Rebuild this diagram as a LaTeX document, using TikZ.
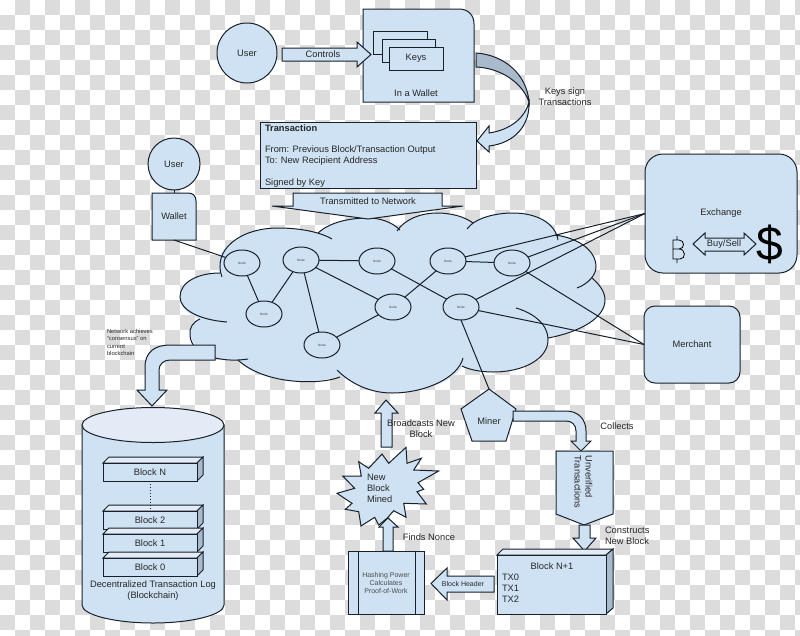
\documentclass[tikz,border=0pt]{standalone}
\usepackage{fontspec}
\setmainfont{Liberation Sans}
\usetikzlibrary{shapes.geometric}
\definecolor{boxblue}{HTML}{CFE2F3}
\definecolor{topblue}{HTML}{E3ECF6}
\definecolor{sideblue}{HTML}{A8BACB}
\definecolor{inkdark}{HTML}{17202B}
\definecolor{checkgrey}{HTML}{DCDCDC}
\tikzset{
    shapebox/.style={fill=boxblue,draw=inkdark,line width=1pt,line join=miter},
    txt/.style={inner sep=0pt,outer sep=0pt,text=black!85,font=\fontsize{9.3}{11}\selectfont},
    link/.style={draw=inkdark,line width=1pt},
    netnode/.style={ellipse,shapebox,minimum width=36pt,minimum height=26pt,inner sep=0pt,outer sep=0pt,text=black!75,font=\fontsize{3.2}{4}\selectfont}
}
\begin{document}
\begin{tikzpicture}[x=1pt,y=-1pt]
    \useasboundingbox (0,0) rectangle (800,635);
    \fill[white] (0,0) rectangle (800,635);
    % checker background
    \foreach \j in {0,...,42} {
        \pgfmathtruncatemacro{\off}{mod(\j+1,2)}
        \foreach \i in {0,2,...,54} {
            \fill[checkgrey] ({(\i+\off)*15},{\j*15}) rectangle ++(15,15);
        }
    }

    % user, keys, wallet
    \node[circle,shapebox,minimum size=60pt,inner sep=0pt,outer sep=0pt,txt] (user) at (247,53) {User};
    \filldraw[shapebox] (363,9) -- (459,9) .. controls (468,9) and (474,15) .. (474,24) -- (474,102) -- (363,102) -- cycle;
    \filldraw[shapebox] (373,31) rectangle (427,54);
    \filldraw[shapebox] (382,39) rectangle (435,62);
    \node[shapebox,txt,minimum width=54pt,minimum height=23pt] (keys) at (416,58.5) {Keys};
    \node[txt] (inwallet) at (416,93) {In a Wallet};
    \filldraw[shapebox] (282,48) -- (357,48) -- (357,42) -- (371,54.5) -- (357,67) -- (357,61) -- (282,61) -- cycle;
    \node[txt] (controls) at (323,54.5) {Controls};

    % keys sign arrow
    \filldraw[link,fill=sideblue] (476,53) .. controls (505,55) and (527,75) .. (529,102) .. controls (522,82) and (500,68) .. (476,67) -- cycle;
    \filldraw[shapebox] (477,141) -- (489,126) -- (489,133) .. controls (510,130) and (525,118) .. (529,102) .. controls (530,125) and (515,143) .. (489,146) -- (489,152) -- cycle;
    \node[txt,align=center] (keyssign) at (565,96.5) {Keys sign\\Transactions};

    % transaction box
    \filldraw[shapebox] (260,122) rectangle (476,188);
    \node[txt,anchor=west] (txtitle) at (265,128) {\bfseries Transaction};
    \node[txt,anchor=west,align=left] (txbody) at (265,155.5) {From: Previous Block/Transaction Output\\To: New Recipient Address};
    \node[txt,anchor=west] (txsigned) at (265,183) {Signed by Key};

    % cloud
    \fill[boxblue] (219,273) .. controls (212,250) and (240,228) .. (278,228) .. controls (295,228) and (310,231) .. (318,233)
        .. controls (330,222) and (350,218) .. (368,218) .. controls (380,218) and (392,222) .. (400,230)
        .. controls (405,220) and (420,213) .. (437,213) .. controls (452,213) and (465,217) .. (472,224)
        .. controls (482,216) and (497,213) .. (513,213) .. controls (535,213) and (552,220) .. (557,234)
        .. controls (578,238) and (596,250) .. (596,267) .. controls (596,270) and (595,275) .. (592,278)
        .. controls (600,285) and (605,292) .. (605,300) .. controls (605,318) and (580,332) .. (548,337)
        .. controls (550,355) and (525,372) .. (493,372) .. controls (482,372) and (470,370) .. (462,366)
        .. controls (455,380) and (425,393) .. (392,393) .. controls (375,393) and (355,385) .. (340,375)
        .. controls (320,385) and (260,385) .. (238,360) .. controls (220,360) and (195,355) .. (190,335)
        .. controls (188,328) and (192,322) .. (200,319) .. controls (188,315) and (180,306) .. (180,297)
        .. controls (180,282) and (198,273) .. (219,273) -- cycle;
    \draw[link] (227,322) .. controls (200,320) and (180,310) .. (180,297) .. controls (180,282) and (198,273) .. (220,273);
    \draw[link] (222,277) .. controls (212,250) and (240,228) .. (278,228) .. controls (300,228) and (320,232) .. (332,239);
    \draw[link] (318,233) .. controls (330,222) and (350,218) .. (368,218) .. controls (380,218) and (392,222) .. (400,230);
    \draw[link] (397,231) .. controls (404,220) and (420,213) .. (437,213) .. controls (452,213) and (465,217) .. (473,223);
    \draw[link] (467,229) .. controls (475,218) and (495,213) .. (513,213) .. controls (535,213) and (555,222) .. (558,240);
    \draw[link] (555,235) .. controls (578,238) and (596,250) .. (596,267) .. controls (596,275) and (588,284) .. (577,288);
    \draw[link] (592,278) .. controls (600,285) and (605,292) .. (605,300) .. controls (605,318) and (580,332) .. (548,338);
    \draw[link] (516,308) .. controls (530,312) and (548,322) .. (548,340) .. controls (548,358) and (525,372) .. (493,372) .. controls (482,372) and (470,370) .. (462,366);
    \draw[link] (463,358) .. controls (458,378) and (425,393) .. (392,393) .. controls (372,393) and (352,385) .. (337,370);
    \draw[link] (340,377) .. controls (320,385) and (265,385) .. (238,360);
    \draw[link] (248,359) .. controls (235,361) and (225,360) .. (215,358) .. controls (200,355) and (190,345) .. (190,335) .. controls (189,328) and (193,322) .. (200,319);

    % transmitted arrow
    \filldraw[shapebox] (293,193) -- (442,193) -- (442,206) -- (463,206) -- (368,219) -- (272,206) -- (293,206) -- cycle;
    \node[txt] (transmitted) at (368,201) {Transmitted to Network};

    % second user and wallet
    \node[circle,shapebox,minimum size=52pt,inner sep=0pt,outer sep=0pt,txt] (usertwo) at (174,164) {User};
    \filldraw[shapebox] (152,193) -- (188,193) .. controls (193,193) and (196,196) .. (196,201) -- (196,240) -- (152,240) -- cycle;
    \node[txt,minimum width=44pt,minimum height=47pt] (wallet) at (174,216.5) {Wallet};
    \draw[link] (usertwo) -- (wallet);

    % exchange and merchant
    \node[shapebox,rounded corners=18pt,minimum width=152pt,minimum height=119pt,txt] (exchange) at (721,213.5) {Exchange};
    \node[shapebox,rounded corners=11pt,minimum width=96pt,minimum height=77pt,txt] (merchant) at (692,344.5) {Merchant};
    \filldraw[shapebox] (693,244) -- (705,233) -- (705,238) -- (744,238) -- (744,233) -- (756,244) -- (744,255) -- (744,251) -- (705,251) -- (705,255) -- cycle;
    \node[txt] (buysell) at (724,244) {Buy/Sell};
    \draw[black,line width=0.8pt] (677,236) -- (677,240) (677,259) -- (677,263)
        (673,249) -- (679,249) .. controls (685,249) and (685,240) .. (679,240) -- (673,240) -- (673,259) -- (680,259) .. controls (686,259) and (686,249) .. (679,249);
    \node[inner sep=0pt,text=black,font=\fontsize{48}{48}\selectfont] (dollar) at (769.5,244.5) {\$};

    % network nodes
    \foreach \name/\x/\y in {na/242/263,nb/301/260,nc/264/314,nd/322/345,ne/377/261,nf/393/307,ng/448/261,nh/512/263,ni/461/307}
        \node[netnode] (\name) at (\x,\y) {Node};
    \foreach \a/\b in {wallet.south/na,na/nc,nc/nb,nb/nd,nb/ne,nb/nf,nd/nf,ne/ni,nf/ng,ng/nh,ng/exchange.west,nh/exchange.west,ni/exchange.west,nh/merchant.west,ni/merchant.west}
        \draw[link] (\a) -- (\b);

    % consensus arrow and text
    \filldraw[shapebox] (215,345) -- (170,345) .. controls (155,345) and (145,352) .. (145,367) -- (145,390) -- (137,390) -- (152,406) -- (167,390) -- (159,390) -- (159,370) .. controls (159,364) and (164,360) .. (170,360) -- (215,360) -- cycle;
    \node[txt,anchor=north west,align=left,font=\fontsize{5.8}{7.2}\selectfont] (consensus) at (107,329.5) {Network achieves\\``consensus'' on\\current\\blockchain};

    % blockchain cylinder
    \filldraw[shapebox] (82,425) -- (82,605) .. controls (82,615) and (115,623) .. (153,623) .. controls (191,623) and (224,615) .. (224,605) -- (224,425) -- cycle;
    \filldraw[shapebox,fill=topblue] (153,425) ellipse (71pt and 17.5pt);
    \foreach \name/\lab/\top in {blockN/Block N/457,blocktwo/Block 2/505,blockone/Block 1/528,blockzero/Block 0/552} {
        \filldraw[shapebox,fill=topblue] (103,\top+6) -- (109,\top) -- (203,\top) -- (197,\top+6) -- cycle;
        \filldraw[shapebox,fill=sideblue] (197,\top+6) -- (203,\top) -- (203,\top+18) -- (197,\top+24) -- cycle;
        \node[shapebox,txt,minimum width=94pt,minimum height=18pt] (\name) at (150,\top+15) {\lab};
    }
    \draw[inkdark,line width=1pt,dotted] (blockN.south) -- (blocktwo.north);
    \node[txt,align=center] (logtext) at (153,591) {Decentralized Transaction Log\\(Blockchain)};

    % miner side
    \filldraw[shapebox] (489,389) -- (516,409) -- (506,441) -- (472,441) -- (461,409) -- cycle;
    \node[txt] (miner) at (489,421) {Miner};
    \coordinate (minertop) at (489,389);
    \draw[link] (ni.south) -- (minertop);
    \filldraw[shapebox] (513,411) -- (566,411) .. controls (578,411) and (586,419) .. (586,431) -- (586,441) -- (591,441) -- (581,451) -- (571,441) -- (576,441) -- (576,431) .. controls (576,425) and (572,421) .. (566,421) -- (513,421) -- cycle;
    \node[txt] (collects) at (617,426) {Collects};
    \filldraw[shapebox] (556,451) -- (613,451) -- (613,514) -- (584,525) -- (556,514) -- cycle;
    \node[txt,rotate=-90,align=left] (unverified) at (583.5,482) {Unverified\\Transactions};
    \filldraw[shapebox] (579,525) -- (590,525) -- (590,538) -- (596,538) -- (584.5,551) -- (573,538) -- (579,538) -- cycle;
    \node[txt,anchor=west,align=left] (constructs) at (605,535.5) {Constructs\\New Block};

    % block being built
    \filldraw[shapebox,fill=topblue] (497,555) -- (503,549) -- (613,549) -- (606,555) -- cycle;
    \filldraw[shapebox,fill=sideblue] (606,555) -- (613,549) -- (613,608) -- (606,614) -- cycle;
    \filldraw[shapebox] (497,555) rectangle (606,614);
    \node[txt] (blocknext) at (552,566) {Block N+1};
    \node[txt,anchor=west,align=left] (txlist) at (502,588) {TX0\\TX1\\TX2};
    \filldraw[shapebox] (494,576) -- (447,576) -- (447,568) -- (431,583.5) -- (447,600) -- (447,592) -- (494,592) -- cycle;
    \node[txt,font=\fontsize{7}{8}\selectfont] (blockheader) at (463,584) {Block Header};

    % hashing
    \node[shapebox,txt,minimum width=76pt,minimum height=63pt,align=center,text=black!70,font=\fontsize{7}{8}\selectfont] (hashing) at (386,582.5) {Hashing Power\\Calculates\\Proof-of-Work};
    \draw[link] (358,551) -- (358,614) (415,551) -- (415,614);
    \node[txt] (nonce) at (429,537) {Finds Nonce};

    % new block star
    \filldraw[shapebox] (358.7,461.7) -- (368.7,468.3) -- (382,454) -- (388.7,463.3) -- (406,447.3) -- (407,463.3) -- (421.3,458.3) -- (413.7,470) -- (438.7,471) -- (418,482.7) -- (423.7,489.3) -- (417,491.7) -- (426.3,504) -- (403.7,503.3) -- (406,517.3) -- (393.7,510.7) -- (387,518.3) -- (378.7,525) -- (374.7,517.3) -- (361,526) -- (358.7,511.7) -- (345.3,509.3) -- (352,503.3) -- (337,493.3) -- (354.7,488.3) -- (342.7,476) -- (361.3,476) -- cycle;
    \node[txt,anchor=west,align=left] (newblock) at (367,488) {New\\Block\\Mined};
    \filldraw[shapebox] (383,551) -- (383,527) -- (379,527) -- (388,518) -- (398,527) -- (393,527) -- (393,551) -- cycle;
    \filldraw[shapebox] (381,447) -- (381,413) -- (375,413) -- (386,400) -- (398,413) -- (392,413) -- (392,447) -- cycle;
    \node[txt,align=center] (broadcasts) at (421,428.5) {Broadcasts New\\Block};
\end{tikzpicture}
\end{document}
